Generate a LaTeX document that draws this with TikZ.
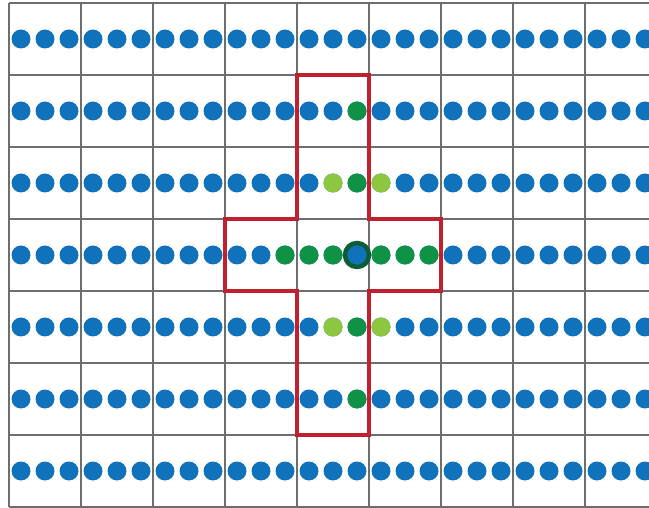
\documentclass[tikz,border=0pt]{standalone}
\usepackage{tikz}
\definecolor{dotblue}{HTML}{1172BC}
\definecolor{darkgreen}{HTML}{0F9245}
\definecolor{lightgreen}{HTML}{8DC63F}
\definecolor{ringgreen}{HTML}{0B5E34}
\definecolor{crossred}{HTML}{C1202F}
\definecolor{gridgray}{HTML}{6D6E71}

\begin{document}
\begin{tikzpicture}[
    x=1pt, y=-1pt,
    gridline/.style={draw=gridgray, line width=2.8pt},
    cross/.style={draw=crossred, line width=3.8pt, line join=miter},
    bluedot/.style={fill=dotblue},
    neardot/.style={fill=darkgreen},
    diagdot/.style={fill=lightgreen},
    centre/.style={draw=ringgreen, line width=4.5pt, fill=dotblue}
]
    \useasboundingbox (0,0) rectangle (649,508);
    \clip (0,0) rectangle (649,508);

    % grid of cells
    \foreach \col in {0,...,9}
        \draw [gridline] (9+72*\col,3) -- (9+72*\col,507);
    \foreach \row in {0,...,7}
        \draw [gridline] (9,3+72*\row) -- (657,3+72*\row);

    % neighbourhood outline
    \draw [cross] (297,75) -- (369,75) -- (369,219) -- (441,219) -- (441,291)
        -- (369,291) -- (369,435) -- (297,435) -- (297,291) -- (225,291)
        -- (225,219) -- (297,219) -- cycle;

    % all samples
    \foreach \row in {0,...,6}
        \foreach \k in {0,...,26}
            \fill [bluedot] (21+24*\k,39+72*\row) circle [radius=9.5pt];

    % neighbours
    \foreach \x/\y in {357/111, 357/183, 357/327, 357/399,
                       285/255, 309/255, 333/255, 381/255, 405/255, 429/255}
        \fill [neardot] (\x,\y) circle [radius=9.5pt];
    \foreach \x/\y in {333/183, 381/183, 333/327, 381/327}
        \fill [diagdot] (\x,\y) circle [radius=9.5pt];

    % centre sample
    \draw [centre] (357,255) circle [radius=12pt];
\end{tikzpicture}
\end{document}
